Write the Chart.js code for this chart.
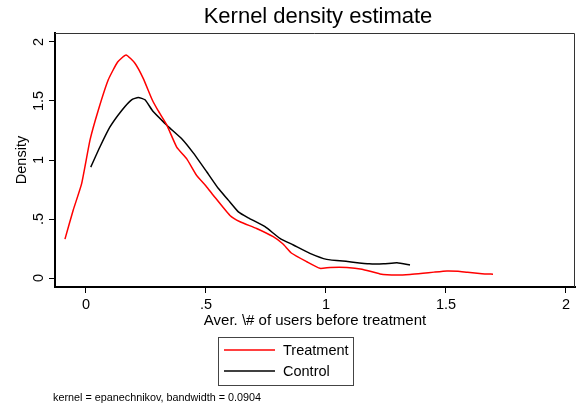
<!DOCTYPE html>
<html>
<head>
<meta charset="utf-8">
<script src="https://cdn.jsdelivr.net/npm/chart.js@4"></script>
<style>
  html, body { margin: 0; padding: 0; background: #fff; }
  #wrap { width: 576px; height: 405px; }
</style>
</head>
<body>
<div id="wrap"><canvas id="kde" width="576" height="405"></canvas></div>
<script>
// Treatment density
const treatX = [-0.0875, -0.053, -0.018, 0.017, 0.051, 0.093, 0.132, 0.167, 0.204, 0.239, 0.276, 0.30, 0.336, 0.378, 0.42, 0.461, 0.5, 0.531, 0.6, 0.642, 0.711, 0.78, 0.82, 0.857, 0.92, 0.975, 1.017, 1.087, 1.15, 1.225, 1.296, 1.35, 1.404, 1.45, 1.504, 1.55, 1.59, 1.65, 1.696];
const treatY = [0.33, 0.576, 0.80, 1.17, 1.42, 1.68, 1.83, 1.89, 1.82, 1.69, 1.51, 1.42, 1.30, 1.11, 1.01, 0.87, 0.78, 0.70, 0.53, 0.477, 0.42, 0.35, 0.29, 0.21, 0.138, 0.082, 0.09, 0.09, 0.075, 0.035, 0.025, 0.03, 0.04, 0.05, 0.06, 0.057, 0.048, 0.037, 0.033];

// Control density
const ctrlX = [0.02, 0.058, 0.1, 0.149, 0.19, 0.218, 0.246, 0.28, 0.329, 0.35, 0.399, 0.447, 0.503, 0.551, 0.593, 0.635, 0.676, 0.746, 0.808, 0.864, 0.933, 1.003, 1.09, 1.18, 1.24, 1.296, 1.35];
const ctrlY = [0.94, 1.11, 1.28, 1.42, 1.51, 1.53, 1.51, 1.41, 1.31, 1.27, 1.18, 1.06, 0.90, 0.76, 0.66, 0.56, 0.51, 0.435, 0.336, 0.28, 0.209, 0.158, 0.14, 0.12, 0.12, 0.13, 0.11];

const tickVals = [0, 0.5, 1, 1.5, 2];
const fmtTick = v => (v === 0.5 ? '.5' : String(v));

const FONT = '"Liberation Sans", Arial, Helvetica, sans-serif';

const pts = (xs, ys) => xs.map((x, i) => ({ x, y: ys[i] }));

// Stata-style frame, title, legend box and note
const decor = {
  id: 'decor',
  afterDraw(chart) {
    const { ctx, chartArea: a } = chart;
    ctx.save();
    // thin frame top/right
    ctx.strokeStyle = '#333';
    ctx.lineWidth = 1;
    ctx.beginPath();
    ctx.moveTo(a.left, a.top + 0.5);
    ctx.lineTo(a.right - 0.5, a.top + 0.5);
    ctx.lineTo(a.right - 0.5, a.bottom);
    ctx.stroke();

    ctx.fillStyle = '#000';
    ctx.textBaseline = 'middle';
    ctx.textAlign = 'center';
    ctx.font = '22px ' + FONT;
    ctx.fillText('Kernel density estimate', 318, 17);

    ctx.font = '15px ' + FONT;
    ctx.fillText('Aver. \\# of users before treatment', 315, 321);

    // y title
    ctx.save();
    ctx.translate(22, 160);
    ctx.rotate(-Math.PI / 2);
    ctx.font = '14.5px ' + FONT;
    ctx.fillText('Density', 0, 0);
    ctx.restore();

    // legend
    ctx.strokeStyle = '#444';
    ctx.lineWidth = 1;
    ctx.strokeRect(218.5, 337.5, 135, 48);
    ctx.lineWidth = 1.5;
    ctx.strokeStyle = 'red';
    ctx.beginPath(); ctx.moveTo(224, 350); ctx.lineTo(275, 350); ctx.stroke();
    ctx.strokeStyle = '#000';
    ctx.beginPath(); ctx.moveTo(224, 371); ctx.lineTo(275, 371); ctx.stroke();
    ctx.textAlign = 'left';
    ctx.font = '14.5px ' + FONT;
    ctx.fillText('Treatment', 283, 351);
    ctx.fillText('Control', 283, 372);

    ctx.font = '10.8px ' + FONT;
    ctx.fillText('kernel = epanechnikov, bandwidth = 0.0904', 53, 398);
    ctx.restore();
  }
};

new Chart(document.getElementById('kde'), {
  type: 'line',
  data: {
    datasets: [
      { label: 'Treatment', data: pts(treatX, treatY), borderColor: 'red', borderWidth: 1.5, pointRadius: 0, tension: 0.15, fill: false },
      { label: 'Control', data: pts(ctrlX, ctrlY), borderColor: '#000', borderWidth: 1.5, pointRadius: 0, tension: 0.15, fill: false },
    ]
  },
  options: {
    responsive: false,
    animation: false,
    layout: { padding: { top: 33, right: 1, left: 0, bottom: 0 } },
    plugins: { legend: { display: false }, tooltip: { enabled: false }, title: { display: false } },
    scales: {
      x: {
        type: 'linear',
        min: -0.129, max: 2.0375,
        afterBuildTicks: s => { s.ticks = tickVals.map(v => ({ value: v })); },
        afterFit: s => { s.height = 118; },
        grid: { drawOnChartArea: false, drawTicks: true, tickLength: 6, color: '#000' },
        border: { display: true, color: '#000', width: 2 },
        ticks: { color: '#000', padding: 3, maxRotation: 0, font: { family: FONT, size: 14.5 }, callback: fmtTick },
      },
      y: {
        type: 'linear',
        min: -0.076, max: 2.076,
        afterBuildTicks: s => { s.ticks = tickVals.map(v => ({ value: v })); },
        afterFit: s => { s.width = 55; },
        grid: { drawOnChartArea: false, drawTicks: true, tickLength: 6, color: '#000' },
        border: { display: true, color: '#000', width: 2 },
        ticks: { color: '#000', padding: 0, minRotation: 90, maxRotation: 90, crossAlign: 'center', font: { family: FONT, size: 14.5 }, callback: fmtTick },
      }
    }
  },
  plugins: [decor]
});
</script>
</body>
</html>
